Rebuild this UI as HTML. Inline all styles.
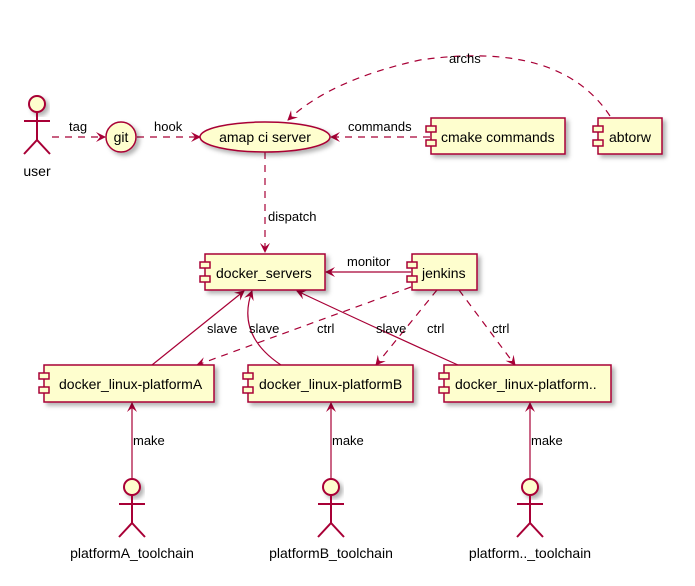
<!DOCTYPE html>
<html><head><meta charset="utf-8"><style>
body{margin:0;background:#fff;}
text{font-family:"Liberation Sans",sans-serif;font-size:13px;fill:#000;}
.n{font-size:14px;}
</style></head><body>
<svg width="695" height="581" viewBox="0 0 695 581" xmlns="http://www.w3.org/2000/svg">
<defs>
<filter id="sh" x="-20%" y="-20%" width="150%" height="150%"><feDropShadow dx="3" dy="3" stdDeviation="2" flood-color="#000" flood-opacity="0.3"/></filter>
<marker id="a" viewBox="0 0 10 10" refX="9" refY="5" markerWidth="10" markerHeight="10" orient="auto" markerUnits="userSpaceOnUse"><path d="M0,0 L10,5 L0,10 L4,5 Z" fill="#A80036"/></marker>
<g id="comp"><rect x="-5" y="-3" width="10" height="6" fill="#FEFECE" stroke="#A80036" stroke-width="1.5"/></g>
</defs>
<g fill="none" stroke="#A80036" stroke-width="1.2">
<!-- dashed edges -->
<g stroke-dasharray="7,6">
<line x1="52" y1="137" x2="105" y2="137" marker-end="url(#a)"/>
<line x1="137" y1="137" x2="200" y2="137" marker-end="url(#a)"/>
<line x1="430" y1="137" x2="331" y2="137" marker-end="url(#a)"/>
<path d="M610,116 Q560,40 420,60 Q330,80 288,120" marker-end="url(#a)"/>
<line x1="265" y1="152" x2="265" y2="252" marker-end="url(#a)"/>
<line x1="411" y1="287" x2="197" y2="365" marker-end="url(#a)"/>
<line x1="437" y1="290" x2="376" y2="365" marker-end="url(#a)"/>
<line x1="459" y1="290" x2="515" y2="365" marker-end="url(#a)"/>
</g>
<line x1="411" y1="272" x2="326" y2="272" marker-end="url(#a)"/>
<line x1="152" y1="365" x2="244" y2="291" marker-end="url(#a)"/>
<path d="M281,365 Q236,335 252,291" marker-end="url(#a)"/>
<path d="M458,365 Q380,330 297,291" marker-end="url(#a)"/>
<line x1="132" y1="478" x2="132" y2="403" marker-end="url(#a)"/>
<line x1="331" y1="478" x2="331" y2="403" marker-end="url(#a)"/>
<line x1="530" y1="478" x2="530" y2="403" marker-end="url(#a)"/>
</g>
<!-- nodes -->
<g fill="#FEFECE" stroke="#A80036" stroke-width="1.5">
<ellipse cx="121" cy="137" rx="15" ry="15" filter="url(#sh)"/>
<ellipse cx="265" cy="137" rx="65" ry="15" filter="url(#sh)"/>
<rect x="431" y="118" width="134" height="36" filter="url(#sh)"/>
<rect x="598" y="118" width="64" height="36" filter="url(#sh)"/>
<rect x="205" y="254" width="120" height="36" filter="url(#sh)"/>
<rect x="412" y="254" width="65" height="36" filter="url(#sh)"/>
<rect x="44" y="365" width="170" height="37" filter="url(#sh)"/>
<rect x="248" y="365" width="165" height="37" filter="url(#sh)"/>
<rect x="444" y="365" width="167" height="37" filter="url(#sh)"/>
</g>
<use href="#comp" x="431" y="129"/><use href="#comp" x="431" y="143"/>
<use href="#comp" x="598" y="129"/><use href="#comp" x="598" y="143"/>
<use href="#comp" x="205" y="265"/><use href="#comp" x="205" y="279"/>
<use href="#comp" x="412" y="265"/><use href="#comp" x="412" y="279"/>
<use href="#comp" x="44" y="376"/><use href="#comp" x="44" y="390"/>
<use href="#comp" x="248" y="376"/><use href="#comp" x="248" y="390"/>
<use href="#comp" x="444" y="376"/><use href="#comp" x="444" y="390"/>
<!-- actors -->
<g fill="#FEFECE" stroke="#A80036" stroke-width="2">
<g transform="translate(37,104)"><circle r="8" filter="url(#sh)"/><path d="M0,8 V36 M-13,17 H13 M-13,50 L0,36 L13,50" fill="none"/></g>
<g transform="translate(132,487)"><circle r="8" filter="url(#sh)"/><path d="M0,8 V36 M-13,17 H13 M-13,50 L0,36 L13,50" fill="none"/></g>
<g transform="translate(331,487)"><circle r="8" filter="url(#sh)"/><path d="M0,8 V36 M-13,17 H13 M-13,50 L0,36 L13,50" fill="none"/></g>
<g transform="translate(530,487)"><circle r="8" filter="url(#sh)"/><path d="M0,8 V36 M-13,17 H13 M-13,50 L0,36 L13,50" fill="none"/></g>
</g>
<!-- labels -->
<text class="n" x="37" y="176" text-anchor="middle">user</text>
<text class="n" x="121" y="142" text-anchor="middle">git</text>
<text class="n" x="265" y="142" text-anchor="middle">amap ci server</text>
<text class="n" x="441" y="142">cmake commands</text>
<text class="n" x="609" y="142">abtorw</text>
<text class="n" x="216" y="278">docker_servers</text>
<text class="n" x="422" y="278">jenkins</text>
<text class="n" x="59" y="389">docker_linux-platformA</text>
<text class="n" x="259" y="389">docker_linux-platformB</text>
<text class="n" x="455" y="389">docker_linux-platform..</text>
<text class="n" x="132" y="558" text-anchor="middle">platformA_toolchain</text>
<text class="n" x="331" y="558" text-anchor="middle">platformB_toolchain</text>
<text class="n" x="530" y="558" text-anchor="middle">platform.._toolchain</text>
<text x="69" y="131">tag</text>
<text x="154" y="131">hook</text>
<text x="348" y="131">commands</text>
<text x="449" y="63">archs</text>
<text x="268" y="221">dispatch</text>
<text x="347" y="266">monitor</text>
<text x="207" y="333">slave</text>
<text x="249" y="333">slave</text>
<text x="376" y="333">slave</text>
<text x="317" y="333">ctrl</text>
<text x="427" y="333">ctrl</text>
<text x="492" y="333">ctrl</text>
<text x="133" y="445">make</text>
<text x="332" y="445">make</text>
<text x="531" y="445">make</text>
</svg>
</body></html>
